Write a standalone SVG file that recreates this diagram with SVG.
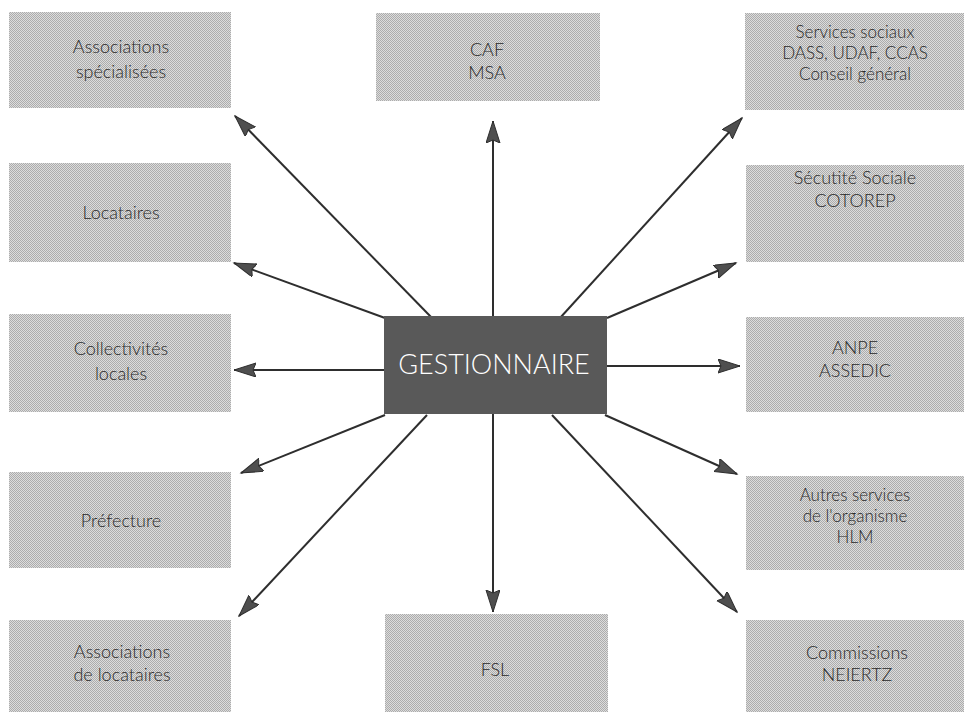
<svg xmlns="http://www.w3.org/2000/svg" width="964" height="712" viewBox="0 0 964 712">
<defs>
<pattern id="dots" width="2" height="2" patternUnits="userSpaceOnUse">
<rect width="2" height="2" fill="#dcdcdc"/>
<rect x="0" y="0" width="1" height="1" fill="#acacac"/>
<rect x="1" y="1" width="1" height="1" fill="#acacac"/>
</pattern>
<marker id="arr" markerUnits="userSpaceOnUse" markerWidth="24" markerHeight="16" refX="22" refY="7" orient="auto">
<path d="M0,0 L22,7 L0,14 L3,7 z" fill="#4f4f4f" stroke="#2e2e2e" stroke-width="1"/>
</marker>
<style>
.box{fill:url(#dots);}
.t{font-family:Lato,"Open Sans","Liberation Sans",sans-serif;font-weight:300;font-size:18px;fill:#2a2a2a;text-anchor:middle;}
.s{font-size:17px;}
.c line{stroke:#2e2e2e;stroke-width:2;marker-end:url(#arr);}
</style>
</defs>
<rect width="964" height="712" fill="#ffffff"/>

<g id="connectors" class="c">
<line x1="432" y1="318" x2="235" y2="116"/>
<line x1="493" y1="316" x2="493" y2="121"/>
<line x1="560" y1="318" x2="742" y2="118"/>
<line x1="385" y1="318" x2="234" y2="263"/>
<line x1="607" y1="318" x2="736" y2="263"/>
<line x1="384" y1="370" x2="234" y2="370"/>
<line x1="607" y1="366" x2="740" y2="366"/>
<line x1="385" y1="415" x2="241" y2="473"/>
<line x1="605" y1="415" x2="737" y2="474"/>
<line x1="427" y1="415" x2="239" y2="616"/>
<line x1="493" y1="414" x2="493" y2="612"/>
<line x1="552" y1="415" x2="737" y2="612"/>
</g>

<g id="n-assoc-spec"><rect class="box" x="9" y="12" width="222" height="96"/>
<text class="t" x="121" y="53">Associations</text><text class="t" x="121" y="78">spécialisées</text></g>
<g id="n-caf"><rect class="box" x="376" y="13" width="224" height="88"/>
<text class="t" x="487" y="56">CAF</text><text class="t" x="487" y="79">MSA</text></g>
<g id="n-services"><rect class="box" x="745" y="13" width="219" height="97"/>
<text class="t s" x="855" y="38">Services sociaux</text><text class="t s" x="855" y="59">DASS, UDAF, CCAS</text><text class="t s" x="855" y="80">Conseil général</text></g>

<g id="n-locataires"><rect class="box" x="9" y="163" width="222" height="99"/>
<text class="t" x="121" y="219">Locataires</text></g>
<g id="n-secu"><rect class="box" x="746" y="165" width="218" height="97"/>
<text class="t" x="855" y="184">Sécutité Sociale</text><text class="t" x="855" y="207">COTOREP</text></g>

<g id="n-collectivites"><rect class="box" x="9" y="314" width="222" height="98"/>
<text class="t" x="121" y="355">Collectivités</text><text class="t" x="121" y="380">locales</text></g>
<g id="n-gestionnaire"><rect x="384" y="316" width="223" height="98" fill="#595959"/>
<text x="494" y="374" font-family="Lato,'Open Sans','Liberation Sans',sans-serif" font-weight="300" font-size="27" fill="#ffffff" text-anchor="middle">GESTIONNAIRE</text></g>
<g id="n-anpe"><rect class="box" x="746" y="317" width="218" height="95"/>
<text class="t" x="855" y="354">ANPE</text><text class="t" x="855" y="377">ASSEDIC</text></g>

<g id="n-prefecture"><rect class="box" x="9" y="472" width="222" height="96"/>
<text class="t" x="121" y="527">Préfecture</text></g>
<g id="n-autres"><rect class="box" x="746" y="476" width="218" height="94"/>
<text class="t s" x="855" y="501">Autres services</text><text class="t s" x="855" y="522">de l'organisme</text><text class="t s" x="855" y="543">HLM</text></g>

<g id="n-assoc-loc"><rect class="box" x="9" y="620" width="222" height="92"/>
<text class="t" x="122" y="658">Associations</text><text class="t" x="122" y="681">de locataires</text></g>
<g id="n-fsl"><rect class="box" x="385" y="614" width="223" height="98"/>
<text class="t" x="495" y="676">FSL</text></g>
<g id="n-commissions"><rect class="box" x="746" y="620" width="218" height="92"/>
<text class="t" x="857" y="659">Commissions</text><text class="t" x="857" y="681">NEIERTZ</text></g>
</svg>
